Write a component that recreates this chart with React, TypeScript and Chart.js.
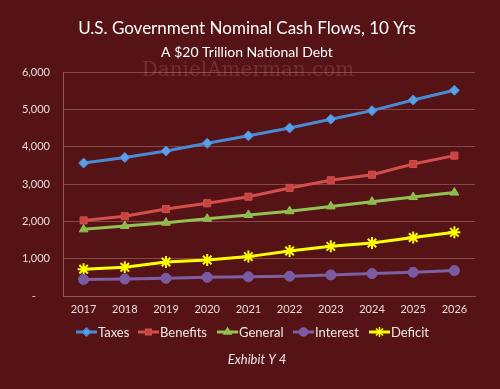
import React, { useEffect, useRef } from "react";
import { Chart, registerables } from "chart.js";
import { drawPoint } from "chart.js/helpers";

Chart.register(...registerables);

const years = ["2017", "2018", "2019", "2020", "2021", "2022", "2023", "2024", "2025", "2026"];
const taxes = [3560, 3710, 3885, 4090, 4290, 4500, 4735, 4965, 5250, 5510];
const benefits = [2025, 2135, 2330, 2485, 2660, 2895, 3100, 3250, 3535, 3760];
const general = [1785, 1875, 1965, 2070, 2170, 2270, 2400, 2525, 2650, 2770];
const interest = [440, 455, 475, 500, 515, 530, 565, 600, 635, 680];
const deficit = [715, 770, 910, 965, 1055, 1205, 1330, 1420, 1565, 1705];
const yTicks = [0, 1000, 2000, 3000, 4000, 5000, 6000];

const BG = "#551315";
const FONT = "Lato, 'Open Sans', sans-serif";

const seriesDefs = [
  { label: "Taxes", data: taxes, color: "#4a8ad4", fill: "#5aa0e8", style: "rectRot", radius: 5 },
  { label: "Benefits", data: benefits, color: "#d24f4c", fill: "#c94441", style: "rect", radius: 5 },
  { label: "General", data: general, color: "#94c153", fill: "#8bbb48", style: "triangle", radius: 5 },
  { label: "Interest", data: interest, color: "#7d5fa6", fill: "#7a5aa0", style: "circle", radius: 5 },
  { label: "Deficit", data: deficit, color: "#ffff00", fill: "#ffff00", style: "star", radius: 6 },
];

const decorPlugin = {
  id: "decor",
  beforeDraw(chart: any) {
    const { ctx, width, height } = chart;
    ctx.save();
    ctx.fillStyle = BG;
    ctx.fillRect(0, 0, width, height);
    ctx.restore();
  },
  beforeDatasetsDraw(chart: any) {
    const { ctx } = chart;
    ctx.save();
    ctx.textAlign = "center";
    ctx.textBaseline = "middle";
    ctx.fillStyle = "rgba(200,150,150,0.22)";
    ctx.font = "20px 'DejaVu Serif', 'Liberation Serif', serif";
    ctx.fillText("DanielAmerman.com", 248, 71);
    ctx.restore();
  },
  afterDraw(chart: any) {
    const { ctx } = chart;
    ctx.save();
    ctx.textAlign = "center";
    ctx.textBaseline = "middle";
    ctx.fillStyle = "#ffffff";
    ctx.font = `17px ${FONT}`;
    ctx.fillText("U.S. Government Nominal Cash Flows, 10 Yrs", 247, 29);
    ctx.font = `14px ${FONT}`;
    ctx.fillText("A $20 Trillion National Debt", 247, 52);
    ctx.font = `italic 13px ${FONT}`;
    ctx.fillStyle = "#f0e6e6";
    ctx.fillText("Exhibit Y 4", 257, 360);

    // legend
    const xs = [76, 138, 217, 293, 369];
    const y = 332;
    ctx.font = `13px ${FONT}`;
    ctx.textAlign = "left";
    seriesDefs.forEach((s, i) => {
      const x = xs[i];
      ctx.strokeStyle = s.color;
      ctx.lineWidth = 3;
      ctx.beginPath();
      ctx.moveTo(x, y);
      ctx.lineTo(x + 21, y);
      ctx.stroke();
      ctx.fillStyle = s.fill;
      ctx.strokeStyle = s.color;
      ctx.lineWidth = 1.5;
      drawPoint(ctx, {
        pointStyle: s.style,
        radius: s.radius - 1,
        rotation: 0,
        borderWidth: 1.5,
      } as any, x + 10.5, y);
      ctx.fillStyle = "#f2e8e8";
      ctx.fillText(s.label, x + 22, y + 1);
    });
    ctx.restore();
  },
};

export default function App() {
  const ref = useRef<HTMLCanvasElement>(null);
  useEffect(() => {
    document.body.style.margin = "0";
    const canvas = ref.current!;
    const chart = new Chart(canvas, {
      type: "line",
      data: {
        labels: years,
        datasets: seriesDefs.map((s) => ({
          label: s.label,
          data: s.data,
          borderColor: s.color,
          backgroundColor: s.fill,
          borderWidth: 3,
          pointStyle: s.style as any,
          pointRadius: s.radius,
          pointBorderColor: s.color,
          pointBackgroundColor: s.fill,
          pointBorderWidth: s.style === "star" ? 2 : 1,
          tension: 0,
        })),
      },
      options: {
        responsive: false,
        animation: false,
        layout: { padding: { top: 72, left: 0, right: 25, bottom: 68 } },
        plugins: { legend: { display: false }, title: { display: false }, tooltip: { enabled: false } },
        scales: {
          x: {
            offset: true,
            grid: { display: false, drawTicks: false },
            border: { display: true, color: "#8e5656", width: 1 },
            ticks: { color: "#eadcdc", font: { family: FONT, size: 11 }, padding: 7, maxRotation: 0 },
            afterFit(scale: any) { scale.height = 25; },
          },
          y: {
            min: 0,
            max: 6000,
            afterBuildTicks(scale: any) { scale.ticks = yTicks.map((v) => ({ value: v })); },
            grid: { color: "#864846", lineWidth: 1, drawTicks: false },
            border: { display: true, color: "#8e5656", width: 1 },
            ticks: {
              color: "#eadcdc",
              font: { family: FONT, size: 11 },
              padding: 13,
              callback: (v: any) => (v === 0 ? "-     " : Number(v).toLocaleString("en-US")),
            },
            afterFit(scale: any) { scale.width = 63; },
          },
        },
      },
      plugins: [decorPlugin],
    });
    return () => chart.destroy();
  }, []);
  return (
    <div style={{ position: "absolute", left: 0, top: 0, width: 500, height: 389 }}>
      <canvas ref={ref} width={500} height={389} style={{ display: "block" }} />
    </div>
  );
}
